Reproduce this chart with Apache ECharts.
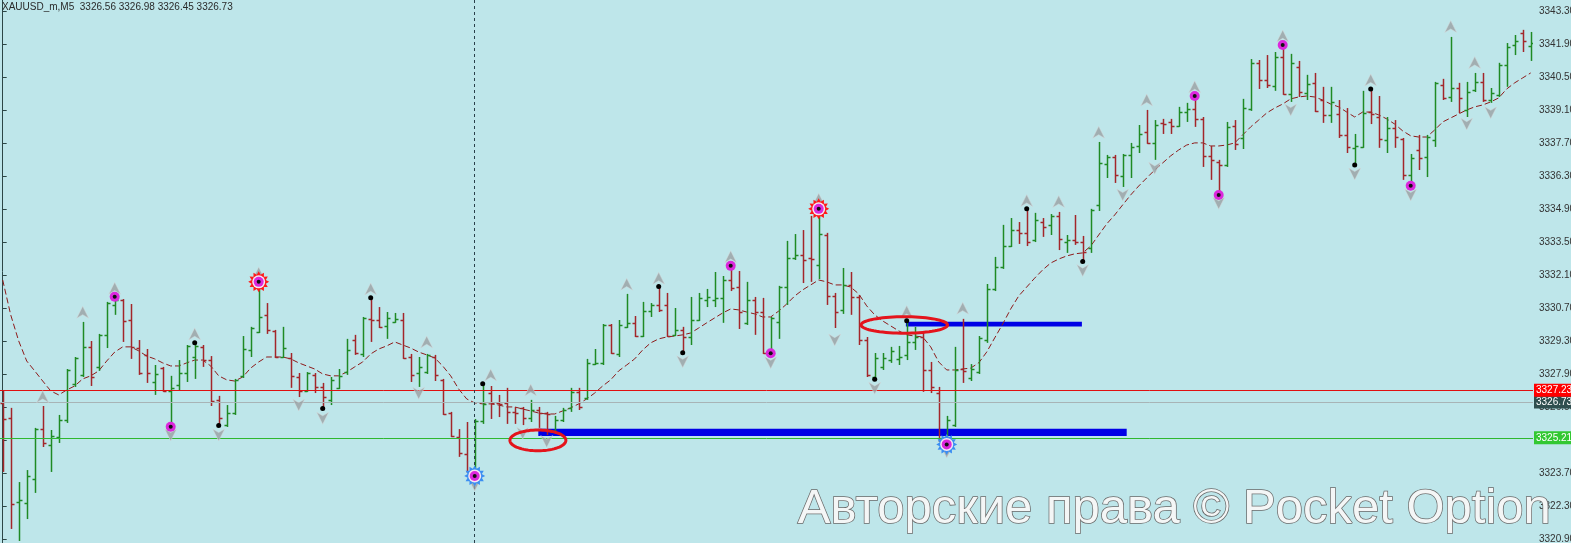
<!DOCTYPE html>
<html><head><meta charset="utf-8">
<script src="https://cdn.jsdelivr.net/npm/echarts@6.0.0/dist/echarts.min.js"></script>
<style>html,body{margin:0;padding:0;background:#bee6ea;}#chart{width:1571px;height:543px;}</style>
</head><body><div id="chart"></div>
<script>
// ---------- DATA ----------
const TITLE = 'XAUUSD_m,M5  3326.56 3326.98 3326.45 3326.73';
const OPEN = [3326.69,3326.05,3322.49,3322.44,3323.46,3325.58,3324.91,3325.24,3325.97,3327.50,3327.88,3329.07,3328.22,3329.58,3330.85,3331.06,3330.21,3329.02,3328.73,3327.58,3328.17,3327.20,3327.45,3327.96,3328.64,3329.07,3328.51,3326.82,3325.75,3326.26,3327.84,3328.94,3329.70,3330.43,3329.75,3328.64,3328.60,3327.79,3327.20,3327.88,3327.37,3326.82,3327.33,3328.00,3329.36,3328.77,3330.26,3330.21,3329.96,3330.13,3330.21,3328.64,3327.96,3328.00,3328.64,3327.67,3326.26,3325.24,3324.52,3323.72,3325.92,3327.11,3326.69,3326.69,3326.31,3326.48,3326.05,3326.39,3326.26,3325.50,3325.97,3326.48,3327.16,3326.90,3328.34,3328.39,3330.00,3328.77,3329.92,3330.09,3329.53,3330.59,3330.85,3330.85,3329.58,3329.79,3329.49,3330.21,3331.06,3331.06,3331.15,3331.91,3331.61,3330.09,3331.06,3330.55,3328.81,3330.13,3331.61,3332.85,3332.97,3332.85,3332.55,3333.82,3331.23,3330.64,3331.70,3331.19,3329.36,3327.79,3328.22,3328.51,3328.56,3328.73,3329.28,3329.49,3328.09,3327.11,3325.24,3325.75,3328.13,3327.75,3328.00,3329.36,3331.53,3332.46,3333.35,3334.03,3333.91,3333.61,3334.37,3334.25,3334.63,3333.52,3333.61,3333.52,3333.27,3335.10,3336.84,3337.13,3336.33,3337.22,3337.60,3338.20,3337.73,3338.58,3338.62,3338.45,3339.04,3339.17,3338.75,3337.18,3336.92,3336.79,3338.45,3337.94,3339.17,3341.13,3340.40,3340.15,3341.38,3339.81,3340.96,3339.85,3340.28,3339.55,3338.92,3338.96,3338.07,3337.52,3337.56,3339.04,3338.83,3337.86,3338.37,3337.90,3336.37,3337.43,3337.13,3337.86,3340.19,3339.68,3340.06,3339.13,3339.98,3340.32,3339.55,3339.77,3341.04,3341.89,3342.40,3341.85];
const HIGH = [3327.24,3326.48,3323.33,3323.84,3325.63,3326.56,3325.54,3326.18,3328.13,3328.64,3330.13,3329.32,3329.62,3330.98,3331.19,3331.10,3330.89,3329.36,3328.98,3328.30,3328.22,3327.84,3328.51,3329.15,3329.24,3329.15,3328.68,3326.99,3326.60,3327.71,3329.53,3329.92,3331.83,3330.93,3329.79,3329.92,3328.81,3327.96,3328.00,3327.96,3327.54,3327.79,3328.13,3329.41,3329.58,3330.34,3331.15,3330.76,3330.55,3330.51,3330.51,3328.77,3328.64,3328.77,3328.73,3327.71,3326.31,3325.58,3325.88,3326.01,3327.54,3327.41,3327.03,3327.33,3326.52,3326.52,3326.82,3326.52,3326.31,3326.14,3326.48,3327.33,3327.33,3328.56,3328.98,3330.04,3330.04,3330.21,3331.32,3330.38,3330.98,3330.93,3331.61,3331.36,3330.72,3329.92,3331.19,3331.36,3331.53,3332.25,3332.08,3332.51,3332.29,3331.83,3331.19,3331.15,3330.34,3331.66,3333.57,3333.86,3334.03,3334.63,3334.97,3333.91,3331.36,3332.42,3332.25,3331.27,3329.49,3328.81,3328.81,3329.07,3329.11,3330.21,3329.92,3329.66,3328.43,3327.37,3326.14,3329.07,3330.26,3328.34,3329.53,3331.74,3332.89,3334.25,3334.54,3334.37,3334.93,3334.76,3334.54,3334.71,3334.80,3333.82,3334.67,3333.78,3334.93,3337.77,3337.22,3337.22,3337.26,3337.73,3338.49,3339.13,3338.70,3338.75,3338.75,3339.26,3339.43,3339.72,3338.83,3337.60,3337.01,3338.62,3338.70,3339.60,3341.29,3341.25,3341.46,3341.59,3341.89,3341.51,3341.21,3340.62,3340.70,3340.11,3340.11,3339.55,3339.21,3338.11,3339.94,3340.02,3339.72,3338.83,3338.70,3337.94,3337.26,3338.07,3338.07,3340.32,3340.45,3342.23,3340.28,3340.32,3340.70,3340.70,3340.06,3341.13,3341.97,3342.31,3342.53,3342.44];
const LOW = [3323.76,3321.34,3320.83,3321.76,3322.87,3324.82,3323.76,3324.99,3325.84,3327.37,3327.79,3327.41,3328.05,3329.02,3330.43,3329.28,3328.56,3327.88,3327.54,3327.03,3327.16,3325.67,3327.20,3327.58,3327.71,3328.22,3326.56,3325.71,3325.67,3326.18,3327.75,3328.64,3329.66,3329.62,3328.60,3328.60,3327.33,3326.94,3327.16,3327.11,3326.48,3326.60,3327.28,3327.88,3328.73,3328.64,3329.28,3329.87,3329.41,3330.09,3328.56,3327.58,3327.37,3327.92,3327.62,3326.18,3325.24,3324.40,3323.72,3323.63,3325.80,3326.01,3326.09,3325.80,3325.80,3325.75,3325.88,3325.63,3325.33,3325.46,3325.88,3326.31,3326.39,3326.82,3328.30,3328.30,3328.77,3328.64,3329.87,3329.49,3329.49,3330.34,3330.55,3329.49,3329.53,3328.81,3329.15,3330.17,3330.76,3330.76,3330.09,3331.44,3329.83,3330.00,3329.58,3328.77,3328.77,3329.41,3330.85,3332.76,3331.78,3331.83,3331.95,3330.85,3329.87,3330.47,3330.43,3329.15,3327.79,3327.67,3328.09,3328.39,3328.30,3328.51,3328.94,3327.16,3327.11,3325.03,3324.95,3325.67,3327.54,3327.62,3327.92,3329.24,3331.44,3332.38,3333.31,3333.44,3333.35,3333.52,3333.74,3333.82,3333.18,3333.06,3333.40,3332.68,3333.06,3334.84,3336.24,3336.03,3335.86,3336.24,3337.30,3337.69,3337.01,3338.11,3338.11,3338.41,3338.62,3338.41,3336.71,3336.16,3335.52,3336.71,3337.43,3337.47,3339.09,3340.02,3340.06,3339.94,3339.77,3339.47,3339.68,3339.55,3339.04,3338.58,3338.58,3337.94,3337.30,3336.79,3337.52,3338.53,3337.52,3337.30,3337.52,3336.16,3335.90,3336.58,3336.28,3337.56,3339.55,3339.47,3339.00,3338.83,3339.89,3339.47,3339.43,3339.68,3340.11,3341.46,3341.59,3341.21];
const CLOSE = [3326.01,3322.40,3322.57,3323.59,3325.58,3324.99,3325.29,3325.97,3328.09,3328.60,3329.07,3327.79,3329.58,3330.93,3331.06,3330.17,3329.07,3327.96,3327.96,3327.92,3327.20,3327.33,3327.96,3329.11,3329.11,3328.51,3326.77,3326.05,3326.26,3327.67,3328.98,3329.87,3330.34,3329.79,3328.64,3329.02,3327.84,3327.20,3327.96,3327.37,3326.94,3327.67,3327.84,3328.94,3328.81,3330.30,3330.21,3329.92,3330.30,3330.26,3328.60,3327.88,3328.22,3328.73,3327.88,3326.22,3325.29,3324.57,3323.76,3325.92,3326.65,3326.69,3326.65,3326.31,3326.26,3326.05,3326.39,3326.26,3326.22,3325.97,3326.39,3327.16,3326.52,3328.39,3328.39,3330.00,3328.81,3330.00,3330.09,3329.53,3330.59,3330.85,3330.64,3329.53,3329.79,3329.49,3330.21,3331.15,3331.19,3331.15,3331.91,3331.57,3330.55,3331.06,3330.55,3328.81,3330.30,3331.61,3332.85,3332.97,3332.76,3332.80,3333.86,3331.23,3330.55,3331.70,3331.19,3329.36,3327.88,3328.60,3328.60,3328.90,3328.64,3329.28,3329.49,3328.09,3327.37,3325.12,3325.97,3328.09,3328.05,3328.13,3329.45,3331.53,3332.46,3333.35,3334.03,3333.91,3333.52,3334.46,3334.16,3334.63,3333.65,3333.61,3333.52,3333.10,3334.88,3336.88,3337.13,3336.37,3337.22,3337.56,3338.11,3337.73,3338.49,3338.53,3338.45,3339.04,3339.17,3338.75,3337.18,3337.01,3336.79,3338.41,3337.69,3339.21,3341.13,3340.40,3340.19,3341.38,3339.81,3341.13,3339.89,3340.23,3339.09,3338.92,3339.47,3338.07,3337.56,3337.60,3339.00,3338.96,3337.90,3338.37,3337.98,3336.37,3337.09,3337.09,3337.98,3340.28,3339.64,3340.06,3339.64,3339.89,3340.32,3339.55,3339.85,3341.04,3341.80,3342.06,3342.06,3341.97];
const MA = [3331.91,3330.43,3329.32,3328.47,3328.05,3327.62,3327.20,3327.03,3327.24,3327.41,3327.71,3327.84,3328.05,3328.47,3328.85,3329.07,3329.07,3328.90,3328.68,3328.56,3328.39,3328.26,3328.26,3328.39,3328.51,3328.51,3328.26,3327.84,3327.67,3327.62,3327.79,3328.17,3328.43,3328.64,3328.64,3328.64,3328.56,3328.39,3328.26,3328.13,3327.92,3327.84,3327.84,3328.00,3328.22,3328.43,3328.77,3328.98,3329.11,3329.28,3329.15,3329.02,3328.85,3328.73,3328.60,3328.26,3327.84,3327.28,3326.86,3326.69,3326.65,3326.65,3326.60,3326.52,3326.52,3326.43,3326.35,3326.26,3326.22,3326.22,3326.35,3326.48,3326.65,3326.86,3327.11,3327.41,3327.67,3328.05,3328.30,3328.56,3328.94,3329.24,3329.41,3329.49,3329.53,3329.58,3329.66,3329.87,3330.09,3330.30,3330.51,3330.68,3330.64,3330.55,3330.47,3330.34,3330.34,3330.59,3330.89,3331.23,3331.49,3331.70,3331.91,3331.83,3331.70,3331.70,3331.61,3331.32,3330.81,3330.43,3330.17,3329.96,3329.75,3329.58,3329.53,3329.49,3329.07,3328.43,3328.09,3328.09,3328.13,3328.17,3328.39,3328.85,3329.45,3330.04,3330.68,3331.23,3331.61,3331.99,3332.34,3332.63,3332.80,3332.93,3333.02,3333.06,3333.35,3333.82,3334.29,3334.67,3335.10,3335.52,3335.90,3336.24,3336.58,3336.88,3337.18,3337.43,3337.64,3337.73,3337.73,3337.60,3337.60,3337.64,3337.73,3338.07,3338.41,3338.70,3339.00,3339.21,3339.38,3339.60,3339.68,3339.72,3339.68,3339.55,3339.38,3339.26,3339.04,3338.83,3339.04,3339.04,3338.92,3338.75,3338.53,3338.24,3338.03,3337.98,3337.98,3338.28,3338.62,3338.79,3338.96,3339.13,3339.26,3339.34,3339.47,3339.64,3340.02,3340.28,3340.49,3340.70];
const UP_ARROWS = [[5,3326.96],[10,3330.54],[14,3331.56],[24,3329.62],[32,3332.21],[46,3331.53],[53,3329.28],[61,3327.88],[66,3327.24],[78,3331.73],[82,3331.98],[91,3332.90],[102,3335.34],[113,3330.57],[120,3330.71],[128,3335.28],[132,3335.24],[137,3338.18],[143,3339.55],[149,3340.11],[160,3342.27],[171,3340.40],[181,3342.67],[184,3341.14]];
const DOWN_ARROWS = [[21,3325.33],[27,3325.33],[37,3326.60],[40,3326.04],[52,3327.10],[59,3323.20],[65,3325.40],[68,3325.05],[85,3328.44],[96,3328.40],[104,3329.36],[109,3327.31],[118,3324.61],[135,3332.31],[140,3335.52],[144,3336.65],[152,3335.17],[161,3339.13],[169,3336.41],[176,3335.52],[183,3338.53],[186,3339.01]];
const MAGENTA_DOTS = [[14,3331.20],[21,3325.68],[91,3332.51],[96,3328.80],[149,3339.72],[152,3335.52],[160,3341.89],[176,3335.91]];
const RED_GEARS = [[32,3331.83],[102,3334.93]];
const BLUE_GEARS = [[59,3323.59],[118,3324.93]];
const BLACK_DOTS = [[24,3329.25],[27,3325.73],[40,3326.45],[46,3331.16],[60,3327.50],[82,3331.63],[85,3328.82],[109,3327.69],[113,3330.18],[128,3334.93],[135,3332.69],[169,3336.79],[171,3340.02]];
const LEVEL_RED = 3327.23, LEVEL_BID = 3326.73, LEVEL_GREEN = 3325.21;
const CROSS_X = 58.9;
const ZONE_START = [66.95, 112.9];
const ZONE_END = [140.5, 134.9];
const ZONE_TOP = [3325.59, 3330.14];
const ZONE_BOTTOM = [3325.29, 3329.93];
const ELLIPSES = [[63.4,3325.54,70.4,3324.66],[107.3,3330.35,118.1,3329.65]];
const Y_TICKS = [3320.90,3322.30,3323.70,3325.10,3326.50,3327.90,3329.30,3330.70,3332.10,3333.50,3334.90,3336.30,3337.70,3339.10,3340.50,3341.90,3343.30];
const WATERMARK = 'Авторские права © Pocket Option';

// ---------- CHART ----------
const X_MIN = -0.3375, X_MAX = 191.2875, Y_MIN = 3320.743, Y_MAX = 3343.797;
const GREEN = '#1f8a24', RED = '#a3262a', FONT = '"Liberation Sans", Arial, sans-serif';
const ohlc = OPEN.map((o, i) => [i, o, HIGH[i], LOW[i], CLOSE[i]]);
const zones = ZONE_START.map((s, i) => [s, ZONE_TOP[i], ZONE_END[i], ZONE_BOTTOM[i]]);
function starPath(n, r1, r2) {
  let d = '';
  for (let k = 0; k < 2 * n; k++) {
    const r = k % 2 ? r2 : r1, a = Math.PI * k / n - Math.PI / 2;
    d += (k ? 'L' : 'M') + (10 + r * Math.cos(a)).toFixed(2) + ',' + (10 + r * Math.sin(a)).toFixed(2);
  }
  return 'path://' + d + 'Z';
}
const GEAR = starPath(12, 10, 7);
const UP_SYM = 'path://M5,0L10,10L5,7L0,10Z';
const DN_SYM = 'path://M0,0L5,3L10,0L5,10Z';
function scatter(data, symbol, size, color, extra) {
  return Object.assign({ type: 'scatter', data, symbol, symbolSize: size, silent: true, animation: false,
    itemStyle: { color, opacity: 1 }, z: 5 }, extra || {});
}
function lvl(value, color, bg) {
  return { yAxis: value, lineStyle: { color, width: 1, type: 'solid' },
    label: { show: true, position: 'end', distance: 1, formatter: value.toFixed(2), color: '#fff',
      backgroundColor: bg, padding: [2, 6, 1, 2], fontSize: 10, fontFamily: FONT } };
}
const chart = echarts.init(document.getElementById('chart'));
chart.setOption({
  animation: false,
  backgroundColor: '#bee6ea',
  grid: { left: 0, right: 38, top: 0, bottom: 0, containLabel: false, outerBoundsMode: 'none' },
  xAxis: { type: 'value', min: X_MIN, max: X_MAX, show: false },
  yAxis: { type: 'value', position: 'right', min: Y_MIN, max: Y_MAX, scale: true,
    splitLine: { show: false },
    axisLine: { show: true, lineStyle: { color: '#2c4646', width: 1 } },
    axisTick: { show: true, length: 4, customValues: Y_TICKS, lineStyle: { color: '#2c4646' } },
    axisLabel: { customValues: Y_TICKS, formatter: v => v.toFixed(2), margin: 6, fontSize: 10,
      fontFamily: FONT, color: '#333', hideOverlap: false } },
  series: [
    { type: 'custom', clip: true, silent: true, data: zones, encode: { x: [0, 2], y: [1, 3] }, z: 2,
      renderItem: (p, api) => {
        const a = api.coord([api.value(0), api.value(1)]), b = api.coord([api.value(2), api.value(3)]);
        return { type: 'rect', shape: { x: a[0], y: a[1], width: b[0] - a[0], height: b[1] - a[1] }, style: { fill: '#0000e6' } };
      } },
    { type: 'line', data: MA.map((v, i) => [i, v]), showSymbol: false, silent: true, z: 3,
      lineStyle: { color: '#8e1b1b', width: 1, type: [6, 3] },
      markLine: { silent: true, symbol: ['none', 'none'], animation: false,
        data: [
          lvl(LEVEL_BID, '#a8b4b6', '#2f4f4f'),
          lvl(LEVEL_GREEN, '#2fb82f', '#32c832'),
          lvl(LEVEL_RED, '#e01010', '#ff0000'),
          { xAxis: CROSS_X, lineStyle: { color: '#2a3f4a', width: 1, type: [3, 3] }, label: { show: false } }
        ] } },
    { type: 'custom', clip: true, silent: true, data: ohlc, encode: { x: 0, y: [1, 2, 3, 4] }, z: 4,
      renderItem: (p, api) => {
        const i = api.value(0);
        const o = api.coord([i, api.value(1)]), h = api.coord([i, api.value(2)]),
              l = api.coord([i, api.value(3)]), c = api.coord([i, api.value(4)]);
        const col = api.value(4) >= api.value(1) ? GREEN : RED;
        const x = Math.round(o[0]) + 0.5, st = { stroke: col, lineWidth: 1.5 };
        return { type: 'group', children: [
          { type: 'line', shape: { x1: x, y1: h[1], x2: x, y2: l[1] }, style: st },
          { type: 'line', shape: { x1: x - 3, y1: Math.round(o[1]) + 0.5, x2: x, y2: Math.round(o[1]) + 0.5 }, style: st },
          { type: 'line', shape: { x1: x, y1: Math.round(c[1]) + 0.5, x2: x + 3, y2: Math.round(c[1]) + 0.5 }, style: st }
        ] };
      } },
    { type: 'custom', clip: true, silent: true, data: ELLIPSES, encode: { x: [0, 2], y: [1, 3] }, z: 6,
      renderItem: (p, api) => {
        const a = api.coord([api.value(0), api.value(1)]), b = api.coord([api.value(2), api.value(3)]);
        const cx = (a[0] + b[0]) / 2, cy = (a[1] + b[1]) / 2, rx = Math.abs(b[0] - a[0]) / 2, ry = Math.abs(b[1] - a[1]) / 2;
        const pts = [];
        for (let k = 0; k < 72; k++) { const t = k / 72 * Math.PI * 2; pts.push([cx + rx * Math.cos(t), cy + ry * Math.sin(t)]); }
        return { type: 'polygon', shape: { points: pts }, style: { fill: 'none', stroke: '#e4141c', lineWidth: 3 } };
      } },
    scatter(UP_ARROWS, UP_SYM, [12, 12], '#9aa0a2', { itemStyle: { color: '#9aa0a2', borderColor: '#d6dcdd', borderWidth: 0.6 } }),
    scatter(DOWN_ARROWS, DN_SYM, [12, 12], '#9aa0a2', { itemStyle: { color: '#9aa0a2', borderColor: '#d6dcdd', borderWidth: 0.6 } }),
    scatter(RED_GEARS, GEAR, 21, '#ff1a1a'),
    scatter(BLUE_GEARS, GEAR, 21, '#3b8ef2'),
    scatter(RED_GEARS.concat(BLUE_GEARS), 'circle', 13, '#f4e8f4', { z: 6 }),
    scatter(MAGENTA_DOTS.concat(RED_GEARS, BLUE_GEARS), 'circle', 10, '#dc28dc', { z: 7 }),
    scatter(MAGENTA_DOTS.concat(RED_GEARS, BLUE_GEARS), 'circle', 4, '#111', { z: 8 }),
    scatter(BLACK_DOTS, 'circle', 5, '#000', { z: 8 })
  ],
  graphic: [
    { type: 'text', left: 2, top: 2, z: 100, silent: true,
      style: { text: TITLE, font: '10px ' + FONT, fill: '#2a2a2a' } },
    { type: 'text', left: 797, top: 484, z: 100, silent: true,
      style: { text: WATERMARK, font: '49px ' + FONT, fill: '#f4f6f6', stroke: '#6a6a6a', lineWidth: 1.5 } }
  ]
});
</script></body></html>
